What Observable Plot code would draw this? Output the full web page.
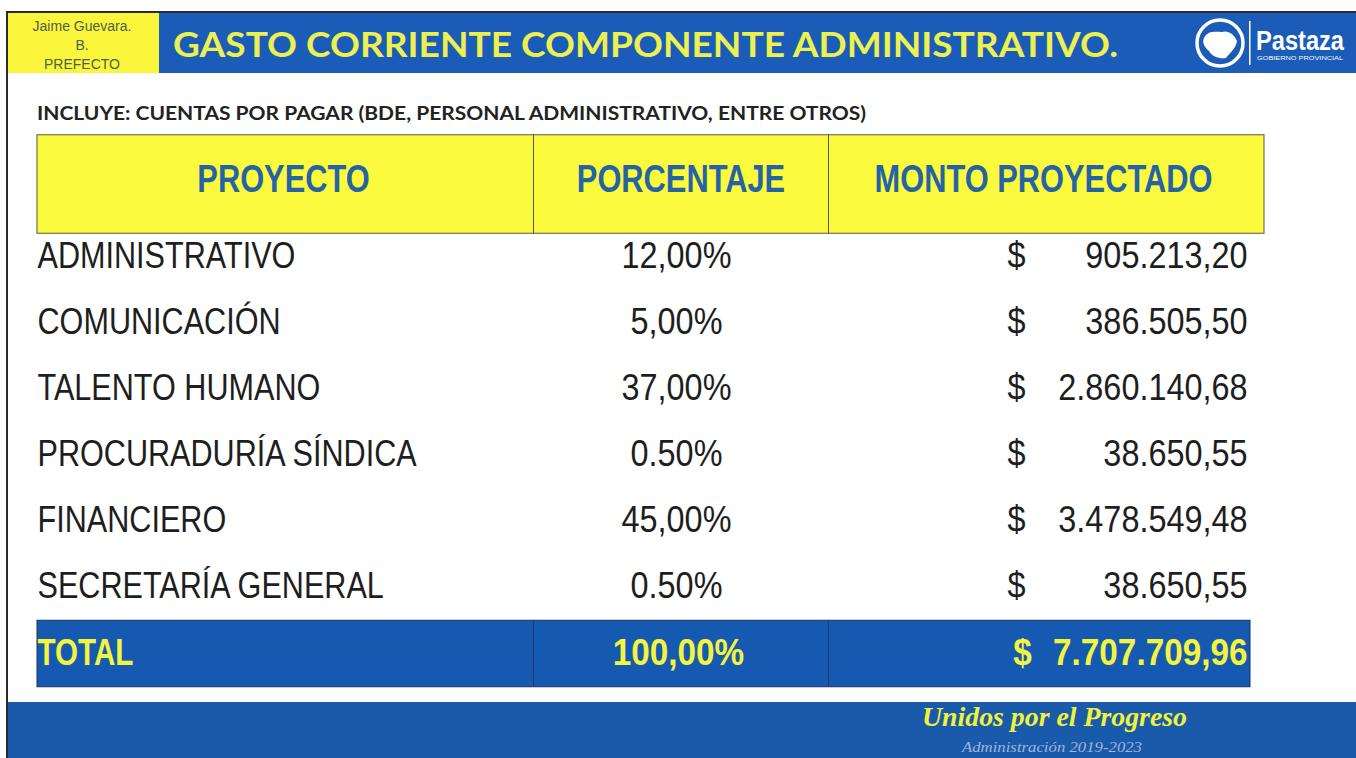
<!DOCTYPE html>
<html>
<head>
<meta charset="utf-8">
<script src="https://cdn.jsdelivr.net/npm/d3@7"></script>
<script src="https://cdn.jsdelivr.net/npm/@observablehq/plot@0.6"></script>
<style>
  html, body { margin: 0; padding: 0; background: #ffffff; }
  #page { position: relative; width: 1356px; height: 758px; overflow: hidden; background: #ffffff; }
  #page > * { position: absolute; left: 0; }
  #leftline { left: 6px; top: 11px; width: 2px; height: 747px; background: #2b2b2b; z-index: 5; }
</style>
</head>
<body>
<div id="page"></div>
<script>
// ---------------- DATA ----------------
const titulo = "GASTO CORRIENTE COMPONENTE ADMINISTRATIVO.";
const subtitulo = "INCLUYE: CUENTAS POR PAGAR (BDE, PERSONAL ADMINISTRATIVO, ENTRE OTROS)";
const autor = ["Jaime Guevara.", "B.", "PREFECTO"];
const marca = ["Pastaza", "GOBIERNO PROVINCIAL"];
const lema = "Unidos por el Progreso";
const periodo = "Administración 2019-2023";

const encabezados = ["PROYECTO", "PORCENTAJE", "MONTO PROYECTADO"];
const proyectos = ["ADMINISTRATIVO", "COMUNICACIÓN", "TALENTO HUMANO", "PROCURADURÍA SÍNDICA", "FINANCIERO", "SECRETARÍA GENERAL"];
const porcentajes = [12.00, 5.00, 37.00, 0.50, 45.00, 0.50];
const porcentajeEtiquetas = ["12,00%", "5,00%", "37,00%", "0.50%", "45,00%", "0.50%"];
const montos = [905213.20, 386505.50, 2860140.68, 38650.55, 3478549.48, 38650.55];
const etiquetaTotal = "TOTAL";
const simboloMoneda = "$";

// ---------------- LAYOUT ----------------
const W = 1356, H = 758;
const TABLE_TOP = 133, PLOT_H = 570;
const col = {left: 37, d1: 533, d2: 828, right: 1264, totalRight: 1250};
const centros = [(col.left + col.d1) / 2 - 2, (col.d1 + col.d2) / 2, (col.d2 + col.right) / 2 - 3];
const xPct = 676, xMoneda = 1016, xMonedaTotal = 1022, xMonto = 1247;
const FILA_ENC = "__encabezado", FILA_TOTAL = "__total";

const BLUE = "#1a5cb7", BLUE_TOTAL = "#1659b1", BLUE_FOOT = "#1a5aab";
const YELLOW = "#fbfa3c", YELLOW_TXT = "#f3f43f", TITLE_YELLOW = "#ecf050";
const SANS = "'Liberation Sans', Arial, sans-serif";
// horizontal condensation per text size (the original uses a narrow face)
const condensarLetras = {"39px": 0.79, "36px": 0.85, "37px": 0.80};
const condensarCifras = {"39px": 0.79, "36px": 0.9, "37px": 0.9};

const es = d3.formatLocale({decimal: ",", thousands: ".", grouping: [3], currency: ["$", ""]});
const fmtMonto = es.format(",.2f");
const fmtPct = v => es.format(".2f")(v) + "%";

const filas = proyectos.map((p, i) => ({proyecto: p, pct: porcentajeEtiquetas[i], monto: fmtMonto(montos[i])}));
const total = [{fila: FILA_TOTAL, etiqueta: etiquetaTotal, pct: fmtPct(d3.sum(porcentajes)), monto: fmtMonto(d3.sum(montos))}];

const page = document.getElementById("page");

// ---------------- HEADER (title band + subtitle) ----------------
const head = d3.create("svg").attr("width", W).attr("height", TABLE_TOP).style("top", "0px");
head.append("rect").attr("x", 6).attr("y", 11).attr("width", W - 6).attr("height", 2).attr("fill", "#2b2b2b");
head.append("rect").attr("x", 8).attr("y", 13).attr("width", 151).attr("height", 60).attr("fill", "#f9f63c");
head.append("rect").attr("x", 159).attr("y", 13).attr("width", W - 159).attr("height", 60).attr("fill", BLUE);
head.append("g").selectAll("text").data(autor).join("text")
  .attr("x", 82).attr("y", (d, i) => 31 + i * 19)
  .attr("text-anchor", "middle").attr("font-family", SANS).attr("font-size", 14)
  .attr("fill", "#535d48").text(d => d);
head.append("text").attr("x", 173).attr("y", 57)
  .attr("font-family", "Lato, 'Open Sans', sans-serif").attr("font-weight", "bold").attr("font-size", 35)
  .attr("fill", TITLE_YELLOW).attr("textLength", 945).attr("lengthAdjust", "spacingAndGlyphs").text(titulo);
// logo
const logo = head.append("g");
logo.append("circle").attr("cx", 1220).attr("cy", 43).attr("r", 23).attr("fill", "none").attr("stroke", "#ffffff").attr("stroke-width", 3.5);
logo.append("path").attr("d", "M1204,38 C1208,30 1216,32 1222,32 C1228,30 1234,34 1237,41 C1236,48 1230,53 1226,58 C1220,59 1212,57 1209,51 C1204,47 1202,42 1204,38 Z").attr("fill", "#ffffff");
logo.append("rect").attr("x", 1249).attr("y", 21).attr("width", 1.5).attr("height", 44).attr("fill", "#ffffff");
logo.append("text").attr("x", 1256).attr("y", 50).attr("font-family", SANS).attr("font-weight", "bold")
  .attr("font-size", 27).attr("fill", "#ffffff").attr("textLength", 88).attr("lengthAdjust", "spacingAndGlyphs").text(marca[0]);
logo.append("text").attr("x", 1257).attr("y", 60).attr("font-family", SANS)
  .attr("font-size", 6).attr("fill", "#ffffff").attr("textLength", 86).attr("lengthAdjust", "spacingAndGlyphs").text(marca[1]);
head.append("text").attr("x", 37).attr("y", 120)
  .attr("font-family", "Lato, 'Open Sans', sans-serif").attr("font-weight", "bold").attr("font-size", 19.5)
  .attr("fill", "#222222").attr("textLength", 829).attr("lengthAdjust", "spacingAndGlyphs").text(subtitulo);
page.appendChild(head.node());

// ---------------- TABLE (Observable Plot) ----------------
const enc = {y: () => FILA_ENC, insetTop: -22.25, insetBottom: -10.25};
const tot = {y: () => FILA_TOTAL, insetTop: 1.25, insetBottom: -1.75};

const chart = Plot.plot({
  width: W,
  height: PLOT_H,
  margin: 0,
  style: {background: "transparent", overflow: "visible"},
  x: {type: "linear", domain: [0, W], range: [0, W], axis: null},
  y: {type: "band", domain: [FILA_ENC, ...proyectos, FILA_TOTAL], range: [22.25, 554.25], padding: 0, axis: null},
  marks: [
    // header row
    Plot.barX([FILA_ENC], {x1: () => col.left, x2: () => col.right, ...enc, fill: YELLOW, stroke: "#55564a", strokeWidth: 1}),
    Plot.tickX([col.d1, col.d2], {x: d => d, ...enc, stroke: "#55564a", strokeWidth: 1}),
    Plot.text(encabezados, {x: (d, i) => centros[i], y: () => FILA_ENC, text: d => d, dy: -11,
      fontSize: 39, fontWeight: "bold", fontFamily: SANS, fill: "#2663a6"}),
    // body rows
    Plot.text(filas, {x: () => col.left, y: "proyecto", text: "proyecto", textAnchor: "start",
      fontSize: 36, fontFamily: SANS, fill: "#1e1e1e"}),
    Plot.text(filas, {x: () => xPct, y: "proyecto", text: "pct",
      fontSize: 36, fontFamily: SANS, fill: "#1e1e1e"}),
    Plot.text(filas, {x: () => xMoneda, y: "proyecto", text: () => simboloMoneda,
      fontSize: 36, fontFamily: SANS, fill: "#1e1e1e"}),
    Plot.text(filas, {x: () => xMonto, y: "proyecto", text: "monto", textAnchor: "end",
      fontSize: 36, fontFamily: SANS, fill: "#1e1e1e"}),
    // total row
    Plot.barX(total, {x1: () => col.left, x2: () => col.totalRight, ...tot, fill: BLUE_TOTAL, stroke: "#18315f", strokeWidth: 1}),
    Plot.tickX([col.d1, col.d2], {x: d => d, ...tot, stroke: "#183a78", strokeWidth: 1}),
    Plot.text(total, {x: () => col.left, y: "fila", text: "etiqueta", textAnchor: "start", dy: 1,
      fontSize: 37, fontWeight: "bold", fontFamily: SANS, fill: YELLOW_TXT}),
    Plot.text(total, {x: () => xPct + 2, y: "fila", text: "pct", dy: 1,
      fontSize: 37, fontWeight: "bold", fontFamily: SANS, fill: YELLOW_TXT}),
    Plot.text(total, {x: () => xMonedaTotal, y: "fila", text: () => simboloMoneda, dy: 1,
      fontSize: 37, fontWeight: "bold", fontFamily: SANS, fill: YELLOW_TXT}),
    Plot.text(total, {x: () => xMonto, y: "fila", text: "monto", textAnchor: "end", dy: 1,
      fontSize: 37, fontWeight: "bold", fontFamily: SANS, fill: YELLOW_TXT})
  ]
});
chart.style.top = TABLE_TOP + "px";
page.appendChild(chart);
// condense glyphs horizontally to mimic the narrow face of the original
chart.querySelectorAll("text").forEach(t => {
  const size = getComputedStyle(t).fontSize;
  const esCifra = /^[\d.,%$\s]+$/.test(t.textContent);
  const f = (esCifra ? condensarCifras : condensarLetras)[size];
  if (!f) return;
  const len = t.getComputedTextLength();
  if (len > 0) {
    t.setAttribute("textLength", (len * f).toFixed(2));
    t.setAttribute("lengthAdjust", "spacingAndGlyphs");
  }
});

// ---------------- FOOTER ----------------
const foot = d3.create("svg").attr("width", W).attr("height", H - 690).style("top", "690px");
foot.append("rect").attr("x", 8).attr("y", 12).attr("width", W - 8).attr("height", H - 702).attr("fill", BLUE_FOOT);
foot.append("text").attr("x", 922).attr("y", 36)
  .attr("font-family", "'Liberation Serif', 'DejaVu Serif', serif").attr("font-style", "italic").attr("font-weight", "bold")
  .attr("font-size", 28).attr("fill", "#f1f23a").attr("textLength", 265).attr("lengthAdjust", "spacingAndGlyphs").text(lema);
foot.append("text").attr("x", 962).attr("y", 62)
  .attr("font-family", "'Liberation Serif', 'DejaVu Serif', serif").attr("font-style", "italic")
  .attr("font-size", 14).attr("fill", "#9fb6d8").attr("textLength", 180).attr("lengthAdjust", "spacingAndGlyphs").text(periodo);
page.appendChild(foot.node());

const line = document.createElement("div");
line.id = "leftline";
page.appendChild(line);
</script>
</body>
</html>
